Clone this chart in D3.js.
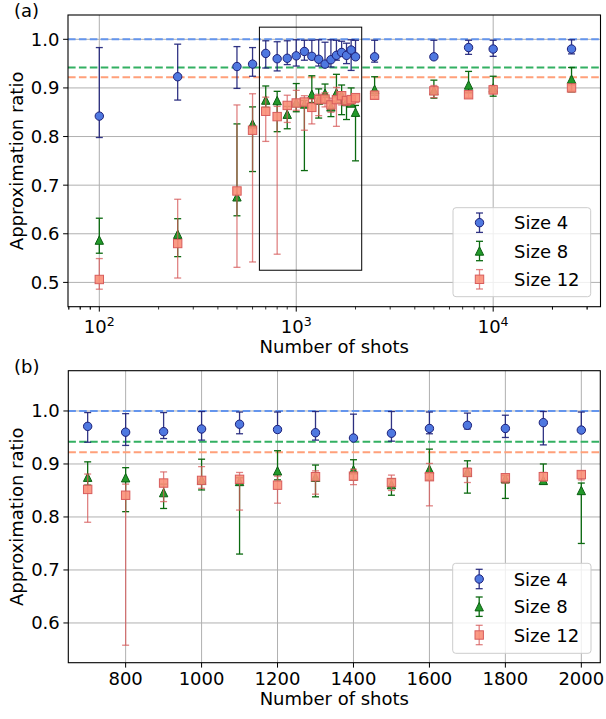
<!DOCTYPE html>
<html><head><meta charset="utf-8">
<script src="https://cdn.jsdelivr.net/npm/d3@7"></script>
<style>body{margin:0;background:#fff}svg{display:block;font-family:"DejaVu Sans",sans-serif}</style>
</head><body><svg id="c" width="606" height="719"></svg>
<script>
// ---------------- data ----------------
const shots = [100, 250, 500, 600, 700, 800, 900, 1000, 1100, 1200, 1300, 1400, 1500, 1600, 1700, 1800, 1900, 2000, 2500, 5000, 7500, 10000, 25000];

const size4Mean = [0.842, 0.923, 0.944, 0.949, 0.971, 0.960, 0.961, 0.966, 0.975, 0.965, 0.959, 0.949, 0.958, 0.967, 0.973, 0.967, 0.978, 0.964, 0.964, 0.964, 0.983, 0.980, 0.980];
const size4Lo   = [0.798, 0.875, 0.899, 0.924, 0.941, 0.935, 0.948, 0.945, 0.957, 0.960, 0.945, 0.945, 0.943, 0.957, 0.966, 0.950, 0.936, 0.960, 0.953, 0.960, 0.969, 0.965, 0.970];
const size4Hi   = [0.983, 0.990, 0.985, 0.983, 0.997, 0.995, 0.997, 0.999, 0.998, 0.998, 0.999, 0.994, 0.999, 0.998, 0.996, 0.992, 0.999, 0.998, 0.998, 0.998, 0.998, 0.998, 0.999];

const size8Mean = [0.587, 0.599, 0.676, 0.826, 0.875, 0.874, 0.846, 0.870, 0.867, 0.887, 0.875, 0.889, 0.861, 0.890, 0.885, 0.872, 0.869, 0.850, 0.897, 0.895, 0.906, 0.900, 0.918];
const size8Lo   = [0.560, 0.553, 0.637, 0.728, 0.860, 0.810, 0.816, 0.851, 0.730, 0.870, 0.838, 0.870, 0.841, 0.870, 0.845, 0.835, 0.862, 0.750, 0.885, 0.879, 0.890, 0.883, 0.892];
const size8Hi   = [0.632, 0.631, 0.826, 0.861, 0.904, 0.893, 0.862, 0.909, 0.874, 0.925, 0.898, 0.908, 0.872, 0.928, 0.906, 0.878, 0.900, 0.864, 0.923, 0.916, 0.934, 0.924, 0.942];

const size12Mean = [0.506, 0.580, 0.688, 0.813, 0.852, 0.841, 0.864, 0.869, 0.871, 0.860, 0.876, 0.877, 0.865, 0.876, 0.884, 0.874, 0.876, 0.880, 0.885, 0.894, 0.886, 0.896, 0.900];
const size12Lo   = [0.486, 0.509, 0.531, 0.542, 0.790, 0.558, 0.829, 0.854, 0.813, 0.826, 0.843, 0.861, 0.850, 0.821, 0.865, 0.864, 0.868, 0.870, 0.878, 0.880, 0.880, 0.888, 0.895];
const size12Hi   = [0.549, 0.671, 0.865, 0.888, 0.881, 0.862, 0.885, 0.895, 0.884, 0.877, 0.887, 0.890, 0.879, 0.901, 0.892, 0.880, 0.884, 0.886, 0.893, 0.905, 0.892, 0.905, 0.905];

const seriesNames = ["Size 4", "Size 8", "Size 12"];
const refLines = [1.0, 0.942, 0.922];

const yTicksA = [0.5, 0.6, 0.7, 0.8, 0.9, 1.0];
const yTicksB = [0.6, 0.7, 0.8, 0.9, 1.0];
const xTicksA = [100, 1000, 10000];
const xTickExpA = ["2", "3", "4"];
const xTicksB = [800, 1000, 1200, 1400, 1600, 1800, 2000];
const zoomRangeB = [700, 2000];
const zoomBoxX = [650, 2150];
const zoomBoxY = [0.525, 1.025];
const panelLabels = ["(a)", "(b)"];

// ---------------- styles ----------------
const styles = [
  {shape: "circle",   fill: "#4f78e0", edge: "#1c1f78", err: "#1c1f78", errOp: 0.9, fillOp: 1},
  {shape: "triangle", fill: "#22992a", edge: "#0b5e12", err: "#0b6a10", errOp: 1, fillOp: 1},
  {shape: "square",   fill: "#fa8f78", edge: "#d85c5c", err: "#d65a5a", errOp: 0.75, fillOp: 0.9}
];
const refColors = ["#6495ed", "#33b062", "#ffa07a"];

const svg = d3.select("#c");
const FONT = 18;

function series(i, filter) {
  const m = [size4Mean, size8Mean, size12Mean][i];
  const lo = [size4Lo, size8Lo, size12Lo][i];
  const hi = [size4Hi, size8Hi, size12Hi][i];
  return shots.map((s, k) => ({x: s, y: m[k], lo: lo[k], hi: hi[k]})).filter(filter);
}

function marker(g, shape, cx, cy, st) {
  const s = 4.2;
  let el;
  if (shape === "circle") el = g.append("circle").attr("cx", cx).attr("cy", cy).attr("r", s);
  else if (shape === "triangle") el = g.append("path").attr("d", `M${cx},${cy - s}L${cx - s},${cy + s}L${cx + s},${cy + s}Z`);
  else el = g.append("rect").attr("x", cx - s).attr("y", cy - s).attr("width", 2 * s).attr("height", 2 * s);
  el.attr("fill", st.fill).attr("fill-opacity", st.fillOp).attr("stroke", st.edge).attr("stroke-width", 1);
}

function errbar(g, cx, y1, y2, st) {
  const c = 3.5;
  const e = g.append("g").attr("stroke", st.err).attr("stroke-opacity", st.errOp).attr("stroke-width", 1.3).attr("fill", "none");
  e.append("line").attr("x1", cx).attr("x2", cx).attr("y1", y1).attr("y2", y2);
  e.append("line").attr("x1", cx - c).attr("x2", cx + c).attr("y1", y1).attr("y2", y1);
  e.append("line").attr("x1", cx - c).attr("x2", cx + c).attr("y1", y2).attr("y2", y2);
}

function drawPanel(opt) {
  const {x, y, L, R, T, B, yTicks, filter} = opt;
  const g = svg.append("g");
  // grid
  const grid = g.append("g").attr("stroke", "#b0b0b0").attr("stroke-width", 1);
  opt.xGrid.forEach(v => grid.append("line").attr("x1", x(v)).attr("x2", x(v)).attr("y1", T).attr("y2", B));
  yTicks.forEach(v => grid.append("line").attr("x1", L).attr("x2", R).attr("y1", y(v)).attr("y2", y(v)));
  // reference lines
  refLines.forEach((v, i) => g.append("line").attr("x1", L).attr("x2", R).attr("y1", y(v)).attr("y2", y(v))
    .attr("stroke", refColors[i]).attr("stroke-width", 2).attr("stroke-dasharray", "7.6,3.3"));
  // series
  [0, 1, 2].forEach(i => {
    const st = styles[i];
    const d = series(i, filter);
    const sg = g.append("g");
    d.forEach(p => errbar(sg, x(p.x), y(p.hi), y(p.lo), st));
    d.forEach(p => marker(sg, st.shape, x(p.x), y(p.y), st));
  });
  // y axis
  const ya = g.append("g");
  yTicks.forEach(v => {
    ya.append("line").attr("x1", L - 4.9).attr("x2", L).attr("y1", y(v)).attr("y2", y(v)).attr("stroke", "#000").attr("stroke-width", 1);
    ya.append("text").attr("x", L - 8.5).attr("y", y(v) + 6.5).attr("text-anchor", "end").attr("font-size", FONT).text(d3.format(".1f")(v));
  });
  g.append("text").attr("transform", `translate(23,${(T + B) / 2}) rotate(-90)`).attr("text-anchor", "middle")
    .attr("font-size", FONT).text("Approximation ratio");
  g.append("text").attr("x", (L + R) / 2).attr("y", opt.xlabelY).attr("text-anchor", "middle").attr("font-size", FONT).text("Number of shots");
  g.append("text").attr("x", 14).attr("y", T + 1.8).attr("font-size", FONT).text(opt.label);
  return g;
}

function legend(g, x0, y0, w, h, rows) {
  g.append("rect").attr("x", x0).attr("y", y0).attr("width", w).attr("height", h).attr("rx", 3)
    .attr("fill", "#fff").attr("fill-opacity", 0.8).attr("stroke", "#cccccc").attr("stroke-width", 1);
  rows.forEach((ry, i) => {
    const st = styles[i];
    errbar(g, x0 + 26.5, ry - 9.7, ry + 9.7, st);
    marker(g, st.shape, x0 + 26.5, ry, st);
    g.append("text").attr("x", x0 + 61).attr("y", ry + 6.5).attr("font-size", FONT).text(seriesNames[i]);
  });
}

function spines(L, R, T, B) {
  svg.append("rect").attr("x", L).attr("y", T).attr("width", R - L).attr("height", B - T)
    .attr("fill", "none").attr("stroke", "#000").attr("stroke-width", 1.1);
}

// ---------------- panel (a) ----------------
{
  const L = 68, R = 600.5, T = 15, B = 306.7;
  const x = d3.scaleLog().domain([Math.pow(10, 1.841), Math.pow(10, 4.545)]).range([L, R]);
  const y = d3.scaleLinear().domain([0.45, 1.05]).range([B, T]);
  const g = drawPanel({x, y, L, R, T, B, yTicks: yTicksA, xGrid: xTicksA, filter: () => true, xlabelY: 353, label: panelLabels[0]});
  // zoom box
  g.append("rect").attr("x", x(zoomBoxX[0])).attr("y", y(zoomBoxY[1])).attr("width", x(zoomBoxX[1]) - x(zoomBoxX[0]))
    .attr("height", y(zoomBoxY[0]) - y(zoomBoxY[1])).attr("fill", "none").attr("stroke", "#000").attr("stroke-width", 1);
  // x ticks: major and minor
  const xa = g.append("g");
  const dom = x.domain();
  x.ticks().forEach(v => {
    if (v < dom[0] || v > dom[1]) return;
    const major = xTicksA.includes(v);
    xa.append("line").attr("x1", x(v)).attr("x2", x(v)).attr("y1", B).attr("y2", B + (major ? 4.9 : 2.8))
      .attr("stroke", "#000").attr("stroke-width", major ? 1 : 0.8);
  });
  [70, 80, 90, 20000, 30000].forEach(v => {
    if (v < dom[0] || v > dom[1]) return;
    xa.append("line").attr("x1", x(v)).attr("x2", x(v)).attr("y1", B).attr("y2", B + 2.8).attr("stroke", "#000").attr("stroke-width", 0.8);
  });
  xTicksA.forEach((v, i) => {
    const t = xa.append("text").attr("x", x(v)).attr("y", B + 26.3).attr("text-anchor", "middle").attr("font-size", FONT);
    t.append("tspan").text("10");
    t.append("tspan").attr("dy", -7.5).attr("font-size", 12.6).text(xTickExpA[i]);
  });
  legend(g, 453, 207.7, 137.7, 89, [222.7, 251, 279.3]);
  spines(L, R, T, B);
}

// ---------------- panel (b) ----------------
{
  const L = 68.3, R = 600.3, T = 370.7, B = 662.7;
  const x = d3.scaleLinear().domain([649, 2050]).range([L, R]);
  const y = d3.scaleLinear().domain([0.525, 1.076]).range([B, T]);
  const g = drawPanel({x, y, L, R, T, B, yTicks: yTicksB, xGrid: xTicksB,
    filter: p => p.x >= zoomRangeB[0] && p.x <= zoomRangeB[1], xlabelY: 705, label: panelLabels[1]});
  const xa = g.append("g");
  xTicksB.forEach(v => {
    xa.append("line").attr("x1", x(v)).attr("x2", x(v)).attr("y1", B).attr("y2", B + 4.9).attr("stroke", "#000").attr("stroke-width", 1);
    xa.append("text").attr("x", x(v)).attr("y", B + 22.5).attr("text-anchor", "middle").attr("font-size", FONT).text(v);
  });
  legend(g, 452.7, 563.3, 138.3, 90, [579, 606.7, 635]);
  spines(L, R, T, B);
}
</script></body></html>
